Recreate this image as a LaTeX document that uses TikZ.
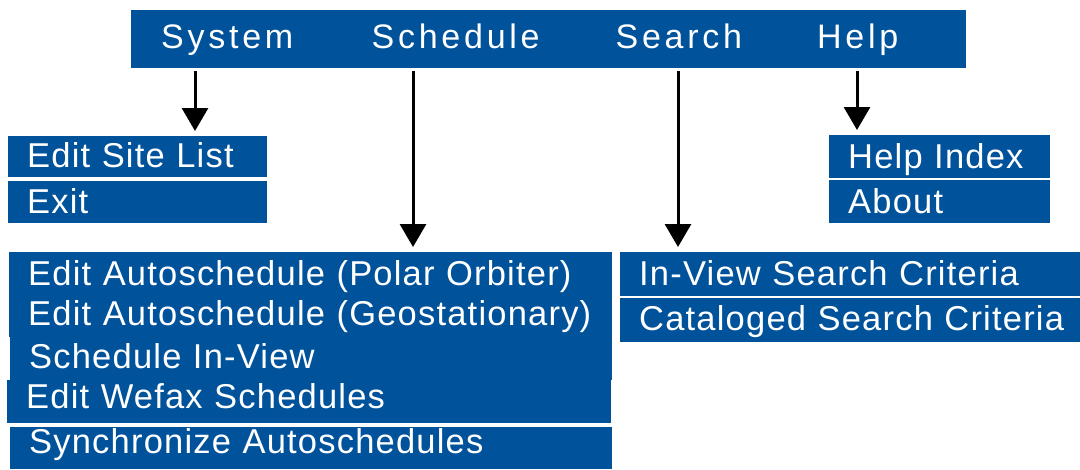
\documentclass[tikz,border=0pt]{standalone}
\usepackage{fontspec}
\setmainfont{Liberation Sans}
\usepackage{xcolor}
\usetikzlibrary{arrows.meta}

\definecolor{menublue}{RGB}{0,82,155}
\newfontfamily\barfont[LetterSpace=11]{Liberation Sans}
\newfontfamily\itemfont[LetterSpace=3.5]{Liberation Sans}

\tikzset{
    menubar/.style = {fill = menublue, anchor = north west, inner sep = 0pt},
    menuhead/.style = {text = white, font = \barfont\fontsize{34}{40}\selectfont,
        anchor = base west, inner sep = 0pt},
    menuitem/.style = {fill = menublue, text = white,
        font = \itemfont\fontsize{34.5}{40}\selectfont,
        anchor = north west, inner xsep = 19pt, inner ysep = 0pt, align = left,
        text height = 28pt, text depth = 6pt,
        execute at begin node = {\leavevmode\hbox\bgroup},
        execute at end node = {\egroup}},
    droparrow/.style = {line width = 3pt, -{Triangle[length=23pt, width=26pt]},
        shorten > = 5pt}
}

\begin{document}
\begin{tikzpicture}[x = 1pt, y = -1pt]
        \useasboundingbox (0, 0) rectangle (1080, 469);

        \node [menubar, minimum width = 835pt, minimum height = 58pt] (bar) at (131, 10) {};
        \node [menuhead] (sysname) at (161, 48) {System};
        \node [menuhead] (schedname) at (371.5, 48) {Schedule};
        \node [menuhead] (srchname) at (615.5, 48) {Search};
        \node [menuhead] (helpname) at (817, 48) {Help};

        \node [menuitem, text width = 221pt, minimum height = 41pt, text height = 27pt]
            (site) at (8, 136) {Edit Site List};
        \node [menuitem, text width = 221pt, minimum height = 42pt]
            (exit) at (8, 181) {Exit};

        \node [menuitem, text width = 183pt, minimum height = 43pt, text height = 29pt]
            (helpidx) at (829, 135) {Help Index};
        \node [menuitem, text width = 183pt, minimum height = 43pt, text height = 29pt]
            (about) at (829, 180) {About};

        \node [menuitem, text width = 565pt, minimum height = 43pt, text height = 29pt]
            (polar) at (9, 252) {Edit Autoschedule (Polar Orbiter)};
        \node [menuitem, text width = 565pt, minimum height = 42pt, text height = 24pt]
            (geo) at (9, 295) {Edit Autoschedule (Geostationary)};
        \node [menuitem, text width = 564pt, minimum height = 43pt, text height = 25pt]
            (inview) at (10, 337) {Schedule In-View};
        \node [menuitem, text width = 566pt, minimum height = 43pt, text height = 19pt]
            (wefax) at (7, 380) {Edit Wefax Schedules};
        \node [menuitem, text width = 564pt, minimum height = 42pt, text height = 16pt]
            (sync) at (10, 427) {Synchronize Autoschedules};

        \node [menuitem, text width = 422pt, minimum height = 44pt]
            (srchview) at (620, 252) {In-View Search Criteria};
        \node [menuitem, text width = 422pt, minimum height = 44pt, text height = 26pt]
            (catalog) at (620, 298) {Cataloged Search Criteria};

        \coordinate (sysdrop) at (195, 71);
        \coordinate (scheddrop) at (413, 71);
        \coordinate (srchdrop) at (678, 71);
        \coordinate (helpdrop) at (857, 71);

        \draw [droparrow] (sysdrop) -- (sysdrop |- site.north);
        \draw [droparrow] (scheddrop) -- (scheddrop |- polar.north);
        \draw [droparrow] (srchdrop) -- (srchdrop |- srchview.north);
        \draw [droparrow] (helpdrop) -- (helpdrop |- helpidx.north);
\end{tikzpicture}
\end{document}
